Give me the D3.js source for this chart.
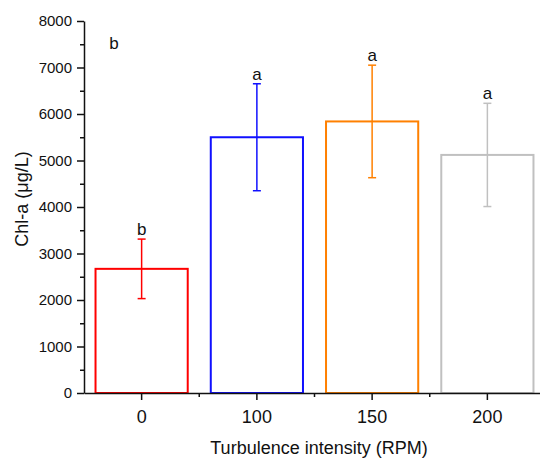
<!DOCTYPE html>
<html>
<head>
<meta charset="utf-8">
<script src="https://cdn.jsdelivr.net/npm/d3@7"></script>
<style>
  body { margin: 0; background: #fff; }
  text { font-family: Arial, "Liberation Sans", sans-serif; fill: #111; }
</style>
</head>
<body>
<div id="chart"></div>
<script>
var width = 540;
var height = 461;
var margin = {top: 21, right: -5, bottom: 68, left: 84};

// data
var categories = ["0", "100", "150", "200"];
var means = [2670, 5500, 5840, 5120];
var errors = [640, 1150, 1210, 1110];
var letters = ["b", "a", "a", "a"];
var colors = ["#ff0000", "#1010ff", "#ff8000", "#c0c0c0"];
var yTicks = [0, 1000, 2000, 3000, 4000, 5000, 6000, 7000, 8000];
var panelLabel = "b";

var x = d3.scaleBand()
          .domain(categories)
          .range([margin.left, width - margin.right])
          .paddingInner(0.2)
          .paddingOuter(0.1);

var y = d3.scaleLinear()
          .domain([0, 8000])
          .range([height - margin.bottom, margin.top]);

var svg = d3.select("#chart")
            .append("svg")
            .attr("width", width)
            .attr("height", height);

// bars
var g = svg.selectAll(".bar")
           .data(categories)
           .enter()
           .append("g")
           .attr("class", "bar");

g.append("rect")
 .attr("x", d => x(d))
 .attr("y", (d, i) => y(means[i]))
 .attr("width", x.bandwidth())
 .attr("height", (d, i) => y(0) - y(means[i]))
 .style("fill", "none")
 .style("stroke", (d, i) => colors[i])
 .style("stroke-width", 2);

// error bars
var cx = d => x(d) + x.bandwidth() / 2;
g.append("line")
 .attr("x1", cx).attr("x2", cx)
 .attr("y1", (d, i) => y(means[i] - errors[i]))
 .attr("y2", (d, i) => y(means[i] + errors[i]))
 .style("stroke", (d, i) => colors[i])
 .style("stroke-width", 1.5);

[-1, 1].forEach(function(s) {
    g.append("line")
     .attr("x1", d => cx(d) - 4).attr("x2", d => cx(d) + 4)
     .attr("y1", (d, i) => y(means[i] + s * errors[i]))
     .attr("y2", (d, i) => y(means[i] + s * errors[i]))
     .style("stroke", (d, i) => colors[i])
     .style("stroke-width", 1.5);
});

g.append("text")
 .attr("x", cx)
 .attr("y", (d, i) => y(means[i] + errors[i]) - 4)
 .attr("text-anchor", "middle")
 .style("font-size", "17px")
 .text((d, i) => letters[i]);

// axes
var yAxis = svg.append("g")
               .attr("transform", "translate(" + margin.left + ",0)")
               .call(d3.axisLeft(y).tickValues(yTicks).tickFormat(d3.format("d"))
                       .tickSize(7).tickPadding(5).tickSizeOuter(0));
svg.append("g")
   .attr("transform", "translate(" + margin.left + ",0)")
   .call(d3.axisLeft(y).tickValues(yTicks.slice(1).map(v => v - 500)).tickSize(4).tickFormat(""))
   .select(".domain").remove();

var xAxis = svg.append("g")
               .attr("transform", "translate(0," + y(0) + ")")
               .call(d3.axisBottom(x).tickSize(7).tickPadding(10).tickSizeOuter(0));

// minor ticks between the groups
svg.append("g")
   .selectAll("line")
   .data(categories.slice(1))
   .enter()
   .append("line")
   .attr("x1", d => x(d) - x.step() * x.paddingInner() / 2)
   .attr("x2", d => x(d) - x.step() * x.paddingInner() / 2)
   .attr("y1", y(0))
   .attr("y2", y(0) + 4)
   .style("stroke", "#111")
   .style("stroke-width", 1.5);

svg.selectAll(".domain, .tick line")
   .style("stroke", "#111")
   .style("stroke-width", 1.5);
yAxis.selectAll("text").style("font-size", "15px").style("fill", "#111");
xAxis.selectAll("text").style("font-size", "18px").style("fill", "#111");

// titles
svg.append("text")
   .attr("transform", "translate(28,199) rotate(-90)")
   .attr("text-anchor", "middle")
   .style("font-size", "18px")
   .text("Chl-a (\u03bcg/L)");

svg.append("text")
   .attr("x", 319)
   .attr("y", 454)
   .attr("text-anchor", "middle")
   .style("font-size", "18px")
   .text("Turbulence intensity (RPM)");

svg.append("text")
   .attr("x", 114)
   .attr("y", 49)
   .attr("text-anchor", "middle")
   .style("font-size", "17px")
   .text(panelLabel);
</script>
</body>
</html>
